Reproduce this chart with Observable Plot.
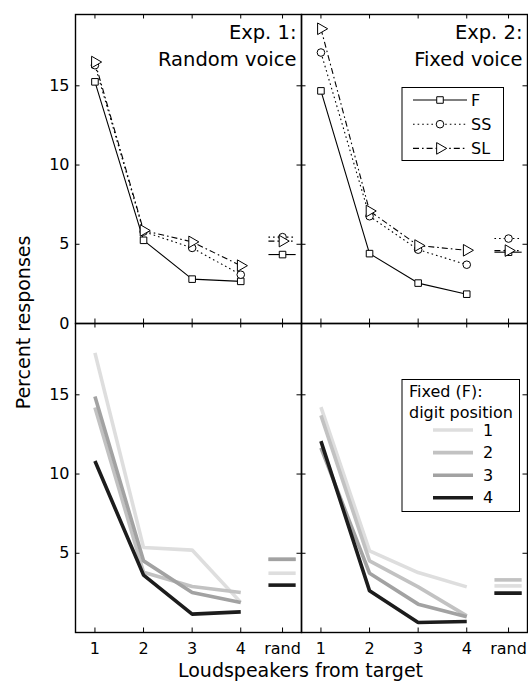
<!DOCTYPE html>
<html>
<head>
<meta charset="utf-8">
<script src="https://cdn.jsdelivr.net/npm/d3@7"></script>
<script src="https://cdn.jsdelivr.net/npm/@observablehq/plot@0.6"></script>
<style>
  body { margin: 0; background: #fff; }
  #wrap { position: relative; width: 528px; height: 682px; font-family: "DejaVu Sans", sans-serif; }
  #wrap svg { position: absolute; left: 0; top: 0; }
</style>
</head>
<body>
<div id="wrap"></div>
<script>
// ---------------- data ----------------
const speakers = [1, 2, 3, 4];
const randX = 4.86;
const xTickValues = [1, 2, 3, 4, 4.86];
const xTickLabels = ["1", "2", "3", "4", "rand"];
const yTicksTop = [0, 5, 10, 15];
const yTicksBottom = [5, 10, 15];
const experiments = ["Exp1", "Exp2"];
const panelTitles = ["Exp. 1:\nRandom voice", "Exp. 2:\nFixed voice"];

// top row: talker conditions (percent responses), per experiment
const exp1F  = [15.25, 5.25, 2.80, 2.66];
const exp1SS = [16.30, 5.80, 4.77, 3.08];
const exp1SL = [16.50, 5.87, 5.15, 3.65];
const exp2F  = [14.68, 4.41, 2.55, 1.85];
const exp2SS = [17.10, 6.77, 4.66, 3.71];
const exp2SL = [18.60, 7.10, 4.92, 4.62];
const randF  = [4.35, 4.50];   // [Exp1, Exp2]
const randSS = [5.45, 5.36];
const randSL = [5.20, 4.60];

// bottom row: Fixed (F) by digit position
const exp1Pos1 = [17.65, 5.36, 5.20, 1.90];
const exp1Pos2 = [14.20, 3.80, 2.90, 2.52];
const exp1Pos3 = [14.90, 4.52, 2.52, 1.90];
const exp1Pos4 = [10.82, 3.62, 1.16, 1.30];
const exp2Pos1 = [14.22, 5.15, 3.78, 2.88];
const exp2Pos2 = [13.70, 4.52, 2.88, 1.05];
const exp2Pos3 = [11.66, 3.74, 1.79, 0.99];
const exp2Pos4 = [12.08, 2.63, 0.63, 0.69];
const randPos1 = [3.74, 2.94];
const randPos2 = [4.62, 3.32];
const randPos3 = [4.62, 2.50];
const randPos4 = [2.99, 2.48];

const talkerNames = ["F", "SS", "SL"];
const digitNames = ["1", "2", "3", "4"];

// ---------------- tables ----------------
const talkerData = {F: [exp1F, exp2F], SS: [exp1SS, exp2SS], SL: [exp1SL, exp2SL]};
const talkerRand = {F: randF, SS: randSS, SL: randSL};
const digitData = {"1": [exp1Pos1, exp2Pos1], "2": [exp1Pos2, exp2Pos2], "3": [exp1Pos3, exp2Pos3], "4": [exp1Pos4, exp2Pos4]};
const digitRand = {"1": randPos1, "2": randPos2, "3": randPos3, "4": randPos4};

function curveRows(name, table, row) {
  const out = [];
  experiments.forEach((e, i) => table[name][i].forEach((v, j) => out.push({name, exp: e, row, x: speakers[j], y: v})));
  return out;
}
function randRows(name, table, row) {
  return experiments.map((e, i) => ({name, exp: e, row, x: randX, y: table[name][i]}));
}

// ---------------- styles ----------------
const talkerStyle = {
  F:  {symbol: "square",   r: 3.7, rotate: 0,  dash: null},
  SS: {symbol: "circle",   r: 3.8, rotate: 0,  dash: "1.6,3"},
  SL: {symbol: "triangle", r: 4.3, rotate: 90, dash: "6,3,1.6,3"}
};
const digitColor = {"1": "#dedede", "2": "#c2c2c2", "3": "#a2a2a2", "4": "#1c1c1c"};

const W = 528, H = 682;
const mL = 74, mR = 1, mT = 13, mB = 50;
const panelW = (W - mL - mR) / 2;
const panelH = (H - mT - mB) / 2;
const tickLen = 5;
const randHalf = 0.28;

const marks = [];

// bottom row thick gray lines
digitNames.forEach(n => {
  marks.push(Plot.line(curveRows(n, digitData, "bottom"), {
    x: "x", y: "y", fx: "exp", fy: "row",
    stroke: digitColor[n], strokeWidth: 3.6, strokeLinecap: "butt", strokeLinejoin: "miter"
  }));
});
digitNames.forEach(n => {
  marks.push(Plot.ruleY(randRows(n, digitRand, "bottom"), {
    y: "y", x1: d => d.x - randHalf, x2: d => d.x + randHalf, fx: "exp", fy: "row",
    stroke: digitColor[n], strokeWidth: 3.6, strokeLinecap: "butt"
  }));
});

// top row black lines with markers
talkerNames.forEach(n => {
  const st = talkerStyle[n];
  const pts = curveRows(n, talkerData, "top");
  const rp = randRows(n, talkerRand, "top");
  marks.push(Plot.line(pts, {
    x: "x", y: "y", fx: "exp", fy: "row", stroke: "black", strokeWidth: 1.1,
    strokeDasharray: st.dash, strokeLinecap: "butt"
  }));
  marks.push(Plot.ruleY(rp, {
    y: "y", x1: d => d.x - randHalf, x2: d => d.x + randHalf, fx: "exp", fy: "row",
    stroke: "black", strokeWidth: 1.1, strokeDasharray: st.dash
  }));
});
talkerNames.forEach(n => {
  const st = talkerStyle[n];
  marks.push(Plot.dot(curveRows(n, talkerData, "top").concat(randRows(n, talkerRand, "top")), {
    x: "x", y: "y", fx: "exp", fy: "row", symbol: st.symbol, r: st.r, rotate: st.rotate,
    fill: "white", stroke: "black", strokeWidth: 1
  }));
});

// inward ticks on all four sides of every panel
marks.push(Plot.tickX(xTickValues, {x: d => d, insetBottom: panelH - tickLen, stroke: "black", strokeWidth: 1}));
marks.push(Plot.tickX(xTickValues, {x: d => d, insetTop: panelH - tickLen, stroke: "black", strokeWidth: 1}));
marks.push(Plot.tickY(yTicksTop, {y: d => d, insetRight: panelW - tickLen, stroke: "black", strokeWidth: 1}));
marks.push(Plot.tickY(yTicksTop, {y: d => d, insetLeft: panelW - tickLen, stroke: "black", strokeWidth: 1}));
marks.push(Plot.frame({stroke: "black", strokeWidth: 1.4}));

// tick labels
const yLabelRows = yTicksTop.map(v => ({exp: "Exp1", row: "top", v, t: String(v)}))
  .concat(yTicksBottom.map(v => ({exp: "Exp1", row: "bottom", v, t: String(v)})));
marks.push(Plot.text(yLabelRows, {
  y: "v", text: "t", fx: "exp", fy: "row", frameAnchor: "left", textAnchor: "end", dx: -6,
  fontSize: 16, fill: "black"
}));
const xLabelRows = [];
experiments.forEach(e => xTickValues.forEach((v, i) => xLabelRows.push({exp: e, row: "bottom", v, t: xTickLabels[i]})));
marks.push(Plot.text(xLabelRows, {
  x: "v", text: "t", fx: "exp", fy: "row", frameAnchor: "bottom", lineAnchor: "middle", dy: 16,
  fontSize: 16, fill: "black"
}));

// panel titles
const titleRows = experiments.map((e, i) => ({exp: e, row: "top", t: panelTitles[i]}));
marks.push(Plot.text(titleRows, {
  text: "t", fx: "exp", fy: "row", frameAnchor: "top-right", textAnchor: "end", lineAnchor: "top",
  dx: -5, dy: 5, fontSize: 19.5, lineHeight: 1.38, fill: "black"
}));

const chart = Plot.plot({
  width: W, height: H,
  marginLeft: mL, marginRight: mR, marginTop: mT, marginBottom: mB,
  style: {fontFamily: "DejaVu Sans, sans-serif", fontSize: "16px", background: "white", color: "black"},
  x: {domain: [0.6, 5.25], axis: null},
  y: {domain: [0, 19.5], axis: null},
  fx: {domain: experiments, padding: 0, axis: null},
  fy: {domain: ["top", "bottom"], padding: 0, axis: null},
  marks
});
const wrap = document.getElementById("wrap");
wrap.appendChild(chart);

// ---------------- overlay: axis titles and legends ----------------
const ov = d3.select(wrap).append("svg").attr("width", W).attr("height", H)
  .style("pointer-events", "none")
  .attr("font-family", "DejaVu Sans, sans-serif").attr("fill", "black");

ov.append("text").attr("transform", `translate(23,${mT + panelH}) rotate(-90)`)
  .attr("text-anchor", "middle").attr("dominant-baseline", "central").attr("font-size", 19)
  .text("Percent responses");
ov.append("text").attr("x", mL + panelW).attr("y", 677)
  .attr("text-anchor", "middle").attr("font-size", 19)
  .text("Loudspeakers from target");

// legend 1: talker conditions
const lg1 = ov.append("g");
lg1.append("rect").attr("x", 402).attr("y", 87.5).attr("width", 101.5).attr("height", 73)
  .attr("fill", "white").attr("stroke", "black").attr("stroke-width", 1);
const sym = {square: d3.symbolSquare, circle: d3.symbolCircle, triangle: d3.symbolTriangle};
const legendLabels = {F: "F", SS: "SS", SL: "SL"};
talkerNames.forEach((n, i) => {
  const st = talkerStyle[n];
  const y = 100 + i * 24.2;
  lg1.append("line").attr("x1", 413).attr("x2", 467).attr("y1", y).attr("y2", y)
    .attr("stroke", "black").attr("stroke-width", 1.1).attr("stroke-dasharray", st.dash);
  lg1.append("path").attr("d", d3.symbol(sym[st.symbol], st.r * st.r * Math.PI)())
    .attr("transform", `translate(440,${y}) rotate(${st.rotate})`)
    .attr("fill", "white").attr("stroke", "black").attr("stroke-width", 1);
  lg1.append("text").attr("x", 471).attr("y", y).attr("dominant-baseline", "central")
    .attr("font-size", 16).text(legendLabels[n]);
});

// legend 2: digit position
const lg2 = ov.append("g");
lg2.append("rect").attr("x", 402).attr("y", 379.5).attr("width", 117.5).attr("height", 132)
  .attr("fill", "white").attr("stroke", "black").attr("stroke-width", 1);
lg2.append("text").attr("x", 409).attr("y", 391).attr("dominant-baseline", "central")
  .attr("font-size", 16).text("Fixed (F):");
lg2.append("text").attr("x", 409).attr("y", 412.5).attr("dominant-baseline", "central")
  .attr("font-size", 16).text("digit position");
digitNames.forEach((n, i) => {
  const y = 430 + i * 22.6;
  lg2.append("line").attr("x1", 433).attr("x2", 473).attr("y1", y).attr("y2", y)
    .attr("stroke", digitColor[n]).attr("stroke-width", 3.6);
  lg2.append("text").attr("x", 483).attr("y", y).attr("dominant-baseline", "central")
    .attr("font-size", 16).text(n);
});
</script>
</body>
</html>
